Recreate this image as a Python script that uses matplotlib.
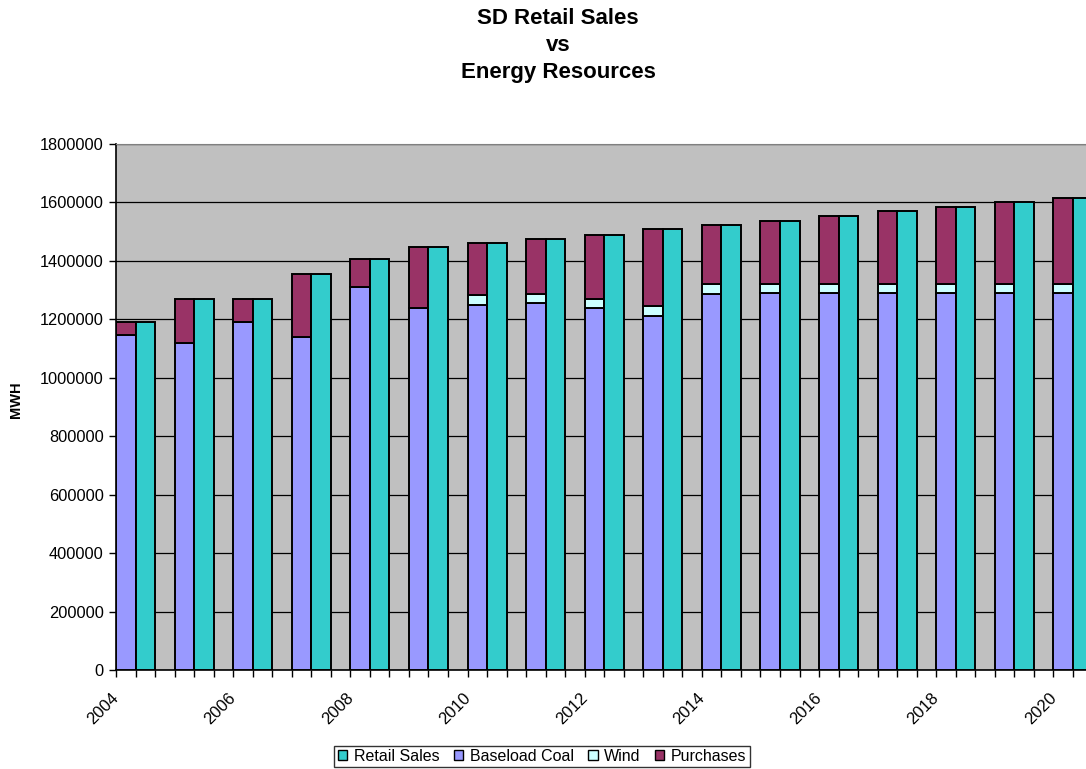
import matplotlib
matplotlib.use("Agg")
import matplotlib.pyplot as plt
from matplotlib.patches import Patch
import numpy as np

plt.rcParams['font.family'] = ['Liberation Sans', 'DejaVu Sans']

years = [2004, 2005, 2006, 2007, 2008, 2009, 2010, 2011, 2012,
         2013, 2014, 2015, 2016, 2017, 2018, 2019, 2020]
baseload_coal = [1146000, 1120000, 1192000, 1141000, 1312000, 1238000,
                 1249000, 1256000, 1238000, 1211000, 1287000, 1290000,
                 1290000, 1290000, 1290000, 1290000, 1290000]
wind = [0, 0, 0, 0, 0, 0, 34000, 32000, 33000, 34000, 34000, 32000,
        32000, 32000, 32000, 32000, 32000]
purchases = [46000, 150000, 78000, 213000, 93000, 211000, 178000, 188000,
             216000, 263000, 201000, 216000, 232000, 248000, 262000,
             278000, 293000]
retail_sales = [1192000, 1270000, 1270000, 1354000, 1405000, 1449000,
                1461000, 1476000, 1487000, 1508000, 1522000, 1538000,
                1554000, 1570000, 1584000, 1600000, 1615000]
y_ticks = [0, 200000, 400000, 600000, 800000, 1000000, 1200000,
           1400000, 1600000, 1800000]

c_retail = '#33CCCC'
c_coal = '#9999FF'
c_wind = '#CCFFFF'
c_purch = '#993366'

fig = plt.figure(figsize=(10.86, 7.69), dpi=100)
ax = fig.add_axes([116 / 1086, 99 / 769, 970 / 1086, 526 / 769])
ax.set_facecolor('#C0C0C0')

# each year occupies three slots: resources stack, retail sales, gap
n = len(years)
base = np.arange(n) * 3.0
coal = np.array(baseload_coal)
wnd = np.array(wind)
pur = np.array(purchases)

ekw = dict(edgecolor='black', linewidth=1.4, align='edge', width=1.0, zorder=3)
ax.bar(base, coal, color=c_coal, **ekw)
has_wind = wnd > 0
ax.bar(base[has_wind], wnd[has_wind], bottom=coal[has_wind], color=c_wind, **ekw)
ax.bar(base, pur, bottom=coal + wnd, color=c_purch, **ekw)
ax.bar(base + 1, retail_sales, color=c_retail, **ekw)

ax.set_xlim(0, 49.67)
ax.set_ylim(0, 1800000)
ax.set_yticks(y_ticks)
ax.set_yticklabels([str(v) for v in y_ticks], fontsize=11.8)
ax.yaxis.grid(True, color='black', linewidth=0.9, zorder=1)
ax.set_axisbelow(True)

ax.set_xticks(np.arange(0, 50, 1))
ax.set_xticklabels([])
ax.tick_params(axis='x', direction='out', length=5, width=1, color='black')
ax.tick_params(axis='y', direction='out', length=5, width=1, color='black', pad=4)
for i, yr in enumerate(years):
    if yr % 2 == 0:
        ax.text(base[i] - 0.25, -68000, str(yr), rotation=45, ha='right',
                va='top', rotation_mode='anchor', fontsize=12,
                transform=ax.transData, clip_on=False)

for side in ['left', 'bottom']:
    ax.spines[side].set_color('black')
    ax.spines[side].set_linewidth(1.2)
ax.spines['top'].set_color('#808080')
ax.spines['right'].set_visible(False)

ax.set_ylabel('MWH', fontsize=10.5, fontweight='bold')
ax.yaxis.set_label_coords(-0.096, 0.513)

fig.text(558 / 1086, 1 - 8 / 769, 'SD Retail Sales\nvs\nEnergy Resources',
         ha='center', va='top', fontsize=16, fontweight='bold', linespacing=1.38)

handles = [Patch(facecolor=c_retail, edgecolor='black'),
           Patch(facecolor=c_coal, edgecolor='black'),
           Patch(facecolor=c_wind, edgecolor='black'),
           Patch(facecolor=c_purch, edgecolor='black')]
leg = fig.legend(handles, ['Retail Sales', 'Baseload Coal', 'Wind', 'Purchases'],
                 loc='lower center', bbox_to_anchor=(542 / 1086, 2 / 769),
                 ncol=4, fontsize=11.5, frameon=True, fancybox=False,
                 handlelength=0.6, handleheight=0.6, handletextpad=0.4,
                 columnspacing=0.9, borderpad=0.2, borderaxespad=0)
leg.get_frame().set_edgecolor('black')
leg.get_frame().set_linewidth(1.0)

fig.savefig('out.png', dpi=100)
